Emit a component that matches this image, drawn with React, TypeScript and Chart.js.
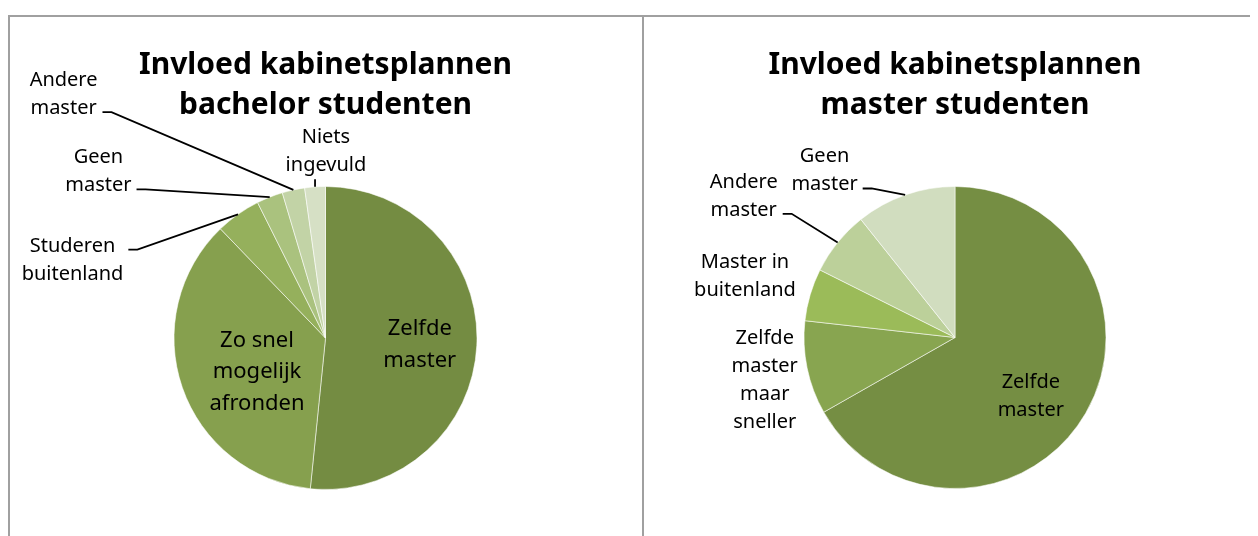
import React, { useEffect, useRef } from "react";
import { Chart, registerables } from "chart.js";

Chart.register(...registerables);

// ---------- data ----------
const bachelorTitle = ["Invloed kabinetsplannen", "bachelor studenten"];
const bachelorCategories = [
  "Zelfde master",
  "Zo snel mogelijk afronden",
  "Studeren buitenland",
  "Geen master",
  "Andere master",
  "Niets ingevuld",
];
const bachelorLabelLines = [
  ["Zelfde", "master"],
  ["Zo snel", "mogelijk", "afronden"],
  ["Studeren", "buitenland"],
  ["Geen", "master"],
  ["Andere", "master"],
  ["Niets", "ingevuld"],
];
const bachelorValues = [51.6, 36.2, 4.8, 2.8, 2.4, 2.2];

const masterTitle = ["Invloed kabinetsplannen", "master studenten"];
const masterCategories = [
  "Zelfde master",
  "Zelfde master maar sneller",
  "Master in buitenland",
  "Andere master",
  "Geen master",
];
const masterLabelLines = [
  ["Zelfde", "master"],
  ["Zelfde", "master", "maar", "sneller"],
  ["Master in", "buitenland"],
  ["Andere", "master"],
  ["Geen", "master"],
];
const masterValues = [66.7, 10.0, 5.6, 6.9, 10.7];

// ---------- styles ----------
const bachelorColors = ["#748C42", "#86A04E", "#95B05C", "#AAC27E", "#C2D3A6", "#D6E0C5"];
const masterColors = ["#758E43", "#88A550", "#9BBB59", "#BCD09A", "#D1DDBF"];

type Place = { dx: number; dy: number; inside?: boolean; leader?: "side" | "below" };

// label placement relative to the pie centre, in units of the pie radius
const bachelorPlaces: Place[] = [
  { dx: 0.622, dy: -0.02, inside: true },
  { dx: -0.452, dy: 0.057, inside: true },
  { dx: -1.67, dy: -0.57, leader: "side" },
  { dx: -1.499, dy: -1.153, leader: "side" },
  { dx: -1.729, dy: -1.663, leader: "side" },
  { dx: 0.003, dy: -1.285, leader: "below" },
];
const masterPlaces: Place[] = [
  { dx: 0.502, dy: 0.333, inside: true },
  { dx: -1.26, dy: 0.046 },
  { dx: -1.391, dy: -0.462 },
  { dx: -1.399, dy: -0.991, leader: "side" },
  { dx: -0.864, dy: -1.159, leader: "side" },
];

const FONT = '"Noto Sans", "Open Sans", sans-serif';

const pieLabelsPlugin = {
  id: "pieLabels",
  afterDatasetsDraw(chart: any, _args: any, opts: any) {
    const meta = chart.getDatasetMeta(0);
    const ctx: CanvasRenderingContext2D = chart.ctx;
    const lines: string[][] = opts.lines;
    const places: Place[] = opts.places;
    ctx.save();
    meta.data.forEach((arc: any, i: number) => {
      const { x, y, startAngle, endAngle, outerRadius } = arc.getProps(
        ["x", "y", "startAngle", "endAngle", "outerRadius"],
        true
      );
      const R = outerRadius;
      const mid = (startAngle + endAngle) / 2;
      const ex = x + Math.cos(mid) * R;
      const ey = y + Math.sin(mid) * R;
      const p = places[i];
      const size = p.inside ? opts.insideSize : opts.outsideSize;
      const lh = p.inside ? opts.insideLineHeight : opts.outsideLineHeight;
      ctx.font = `${size}px ${FONT}`;
      ctx.textAlign = "center";
      ctx.textBaseline = "alphabetic";
      ctx.fillStyle = "#000";
      const tx = x + p.dx * R;
      const ty = y + p.dy * R;
      let maxW = 0;
      lines[i].forEach((l, k) => {
        ctx.fillText(l, tx, ty + k * lh);
        maxW = Math.max(maxW, ctx.measureText(l).width);
      });
      const lastBase = ty + (lines[i].length - 1) * lh;
      if (p.leader) {
        ctx.strokeStyle = "#000";
        ctx.lineWidth = 1.8;
        ctx.beginPath();
        if (p.leader === "side") {
          const ay = (ey < ty ? ty : lastBase) - 2;
          const sx = tx + maxW / 2 + 5;
          ctx.moveTo(sx, ay);
          ctx.lineTo(sx + 9, ay);
          ctx.lineTo(ex, ey);
        } else {
          ctx.moveTo(ex, lastBase + 8);
          ctx.lineTo(ex, ey);
        }
        ctx.stroke();
      }
    });
    ctx.restore();
  },
};

function PieChart(props: {
  title: string[];
  categories: string[];
  values: number[];
  colors: string[];
  lines: string[][];
  places: Place[];
  width: number;
  height: number;
  padding: { left: number; right: number; top: number; bottom: number };
  insideSize: number;
  insideLineHeight: number;
}) {
  const ref = useRef<HTMLCanvasElement | null>(null);
  useEffect(() => {
    if (!ref.current) return;
    const chart = new Chart(ref.current, {
      type: "pie",
      data: {
        labels: props.categories,
        datasets: [
          {
            data: props.values,
            backgroundColor: props.colors,
            borderColor: "rgba(255,255,255,0.55)",
            borderWidth: 1,
          },
        ],
      },
      options: {
        responsive: false,
        animation: false,
        devicePixelRatio: 1,
        layout: { padding: props.padding },
        plugins: {
          legend: { display: false },
          tooltip: { enabled: false },
          title: {
            display: true,
            text: props.title,
            color: "#000",
            font: { family: FONT, size: 30, weight: "bold", lineHeight: 40 / 30 },
            padding: { top: 28, bottom: 61 },
          },
          pieLabels: {
            lines: props.lines,
            places: props.places,
            outsideSize: 20,
            outsideLineHeight: 28,
            insideSize: props.insideSize,
            insideLineHeight: props.insideLineHeight,
          },
        } as any,
      },
      plugins: [pieLabelsPlugin],
    });
    return () => chart.destroy();
  }, []);
  return <canvas ref={ref} width={props.width} height={props.height} style={{ display: "block" }} />;
}

export default function App() {
  const border = "2px solid #A0A0A0";
  return (
    <div style={{ position: "relative", width: 1250, height: 528, overflow: "hidden", background: "#fff" }}>
      <div
        style={{
          position: "absolute",
          left: 0,
          top: 7,
          width: 632,
          height: 560,
          borderLeft: border,
          borderTop: border,
          borderRight: border,
        }}
      >
        <PieChart
          title={bachelorTitle}
          categories={bachelorCategories}
          values={bachelorValues}
          colors={bachelorColors}
          lines={bachelorLabelLines}
          places={bachelorPlaces}
          width={632}
          height={519}
          padding={{ left: 0, right: 1, top: 0, bottom: 46 }}
          insideSize={22}
          insideLineHeight={31.7}
        />
      </div>
      <div
        style={{
          position: "absolute",
          left: 636,
          top: 7,
          width: 620,
          height: 560,
          borderTop: border,
        }}
      >
        <PieChart
          title={masterTitle}
          categories={masterCategories}
          values={masterValues}
          colors={masterColors}
          lines={masterLabelLines}
          places={masterPlaces}
          width={620}
          height={519}
          padding={{ left: 2, right: 0, top: 0, bottom: 47 }}
          insideSize={20}
          insideLineHeight={28}
        />
      </div>
    </div>
  );
}
